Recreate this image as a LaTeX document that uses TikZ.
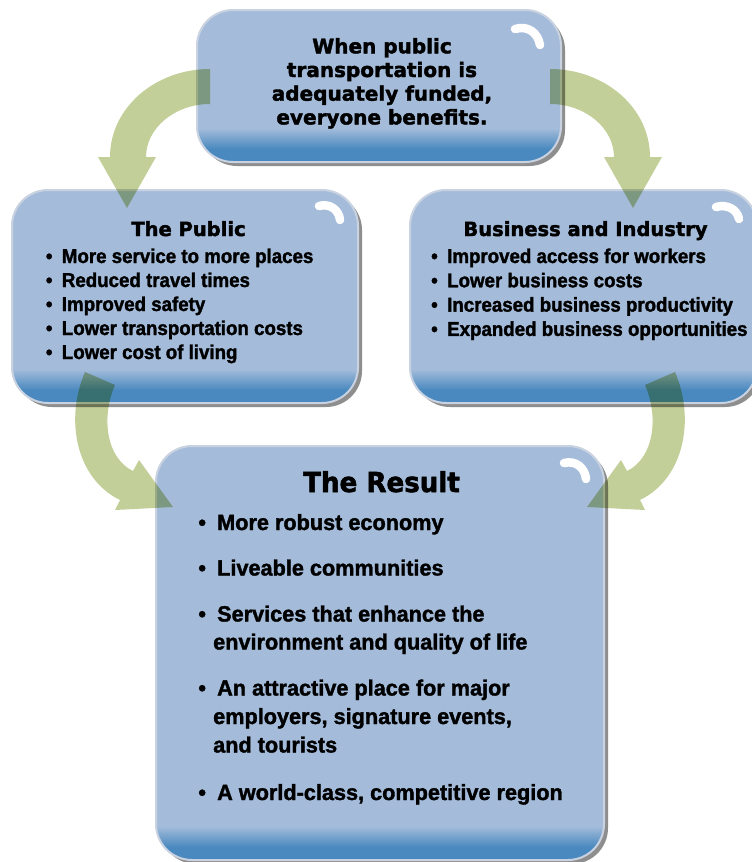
\documentclass[tikz,border=0pt]{standalone}
\usepackage{fontspec}
\setmainfont{Liberation Sans}
\newfontfamily\headfont{DejaVu Sans}[FakeBold=2]
\newfontfamily\restitlefont{DejaVu Sans}[FakeStretch=0.95,FakeBold=2]
\newfontfamily\bodyfont{Liberation Sans}[FakeStretch=0.935,FakeBold=1.6]
\newfontfamily\resfont{Liberation Sans}[FakeStretch=0.985,FakeBold=1.6]
\usetikzlibrary{shadows}
\definecolor{boxblue}{HTML}{A4BCDA}
\definecolor{boxdark}{HTML}{4A89BF}
\definecolor{boxrim}{HTML}{C9D2E0}
\definecolor{boxshadow}{HTML}{8E8E8E}
\definecolor{arrowgreen}{HTML}{C3CF98}
\tikzset{
  gbox/.style={rectangle, rounded corners=36pt, fill=boxblue, draw=none,
    outer sep=0pt, inner sep=0pt,
    drop shadow={shadow xshift=4pt, shadow yshift=-4pt, fill=boxshadow, opacity=1}},
  rim/.style={draw=boxrim, line width=2pt, rounded corners=36pt},
  gloss/.style={white, line width=8.5pt, line cap=round},
  bigarrow/.style={fill=arrowgreen, blend mode=multiply},
  headtxt/.style={font=\headfont\bfseries\fontsize{20}{24}\selectfont, inner sep=0pt, anchor=base},
  titletxt/.style={font=\headfont\bfseries\fontsize{19.5}{23}\selectfont, inner sep=0pt, anchor=base},
  restitle/.style={font=\restitlefont\bfseries\fontsize{27.5}{32}\selectfont, inner sep=0pt, anchor=base},
  bul/.style={font=\bodyfont\bfseries\fontsize{20}{24}\selectfont, inner sep=0pt, anchor=base west},
  resbul/.style={font=\resfont\bfseries\fontsize{22}{28}\selectfont, inner sep=0pt, anchor=base west}
}
% bottom gradient band and rim of a box node
\newcommand\boxfinish[1]{%
  \begin{scope}
    \clip[rounded corners=36pt] (#1.south west) rectangle (#1.north east);
    \foreach \k in {0,...,21}{
      \pgfmathsetmacro\pct{100*\k/21}
      \fill[boxdark!\pct!boxblue]
        ([yshift={(34-\k)*1pt}]#1.south west) rectangle
        ([yshift={(32.6-\k)*1pt}]#1.south east);
    }
    \fill[boxdark] ([yshift=13pt]#1.south west) rectangle (#1.south east);
  \end{scope}
  \path[rim] (#1.south west) rectangle (#1.north east);
}
\begin{document}
\begin{tikzpicture}[x=1pt, y=-1pt]
\useasboundingbox (0,0) rectangle (752,862);
\fill[white] (0,0) rectangle (752,862);

% boxes
\node[gbox, minimum width=364pt, minimum height=152pt] (top) at (379,86) {};
\boxfinish{top}
\node[gbox, minimum width=346pt, minimum height=213pt] (pub) at (185,296.5) {};
\boxfinish{pub}
\node[gbox, minimum width=347pt, minimum height=213pt] (biz) at (583.5,296.5) {};
\boxfinish{biz}
\node[gbox, minimum width=448pt, minimum height=414pt] (res) at (380,653) {};
\boxfinish{res}

% gloss highlights
\draw[gloss, shift={(top.north east)}] (-46,19) .. controls (-33,15) and (-23,23) .. (-21,35);
\draw[gloss, shift={(pub.north east)}] (-39,16) .. controls (-28,13) and (-19,20) .. (-18,30);
\draw[gloss, shift={(biz.north east)}] (-41,17) .. controls (-30,14) and (-20,19) .. (-18,29);
\draw[gloss, shift={(res.north east)}] (-40,17) .. controls (-28,14) and (-19,22) .. (-18,33);

% texts: top box
\node[headtxt] (t0) at (382,53.3) {When public};
\node[headtxt] (t1) at (382,77.0) {transportation is};
\node[headtxt] (t2) at (382,100.7) {adequately funded,};
\node[headtxt] (t3) at (382,124.4) {everyone benefits.};

% The Public
\node[titletxt] (pubtitle) at (188.5,236) {The Public};
\foreach \txt [count=\i from 0] in {More service to more places, Reduced travel times, Improved safety, Lower transportation costs, Lower cost of living}
  \node[bul] (pub\i) at (45.7,263+24*\i) {\makebox[16pt][l]{•}\txt};

% Business and Industry
\node[titletxt] (biztitle) at (585.5,236) {Business and Industry};
\foreach \txt [count=\i from 0] in {Improved access for workers, Lower business costs, Increased business productivity, Expanded business opportunities}
  \node[bul] (biz\i) at (431,263+24.3*\i) {\makebox[16pt][l]{•}\txt};

% The Result
\node[restitle] (restitle) at (381.5,492) {The Result};
\node[resbul] (r0) at (198.2,530) {\makebox[18.8pt][l]{•}More robust economy};
\node[resbul] (r1) at (198.2,575.5) {\makebox[18.8pt][l]{•}Liveable communities};
\node[resbul] (r2) at (198.2,621.5) {\makebox[18.8pt][l]{•}Services that enhance the};
\node[resbul] (r3) at (198.2,649.5) {\hspace*{14.8pt}environment and quality of life};
\node[resbul] (r4) at (198.2,695.5) {\makebox[18.8pt][l]{•}An attractive place for major};
\node[resbul] (r5) at (198.2,724) {\hspace*{14.8pt}employers, signature events,};
\node[resbul] (r6) at (198.2,752.5) {\hspace*{14.8pt}and tourists};
\node[resbul] (r7) at (198.2,800) {\makebox[18.8pt][l]{•}A world-class, competitive region};

% curved arrows
\fill[bigarrow] (210,69) .. controls (155,69) and (110,108) .. (110,157) -- (98,157) -- (127,208) -- (156,157) -- (146,157) .. controls (146,128) and (175,104) .. (210,104) -- cycle;
\fill[bigarrow] (550,69) .. controls (605,69) and (650,108) .. (650,157) -- (662,157) -- (633,208) -- (604,157) -- (614,157) .. controls (614,128) and (585,104) .. (550,104) -- cycle;
\fill[bigarrow] (85,372) .. controls (65,418) and (75,478) .. (120,500) -- (115,510) -- (173,507) -- (139,460) -- (133,471) .. controls (106,458) and (101,417) .. (115,385) -- cycle;
\fill[bigarrow] (675,372) .. controls (695,418) and (685,478) .. (640,500) -- (645,510) -- (587,507) -- (621,460) -- (627,471) .. controls (654,458) and (659,417) .. (645,385) -- cycle;
\end{tikzpicture}
\end{document}
